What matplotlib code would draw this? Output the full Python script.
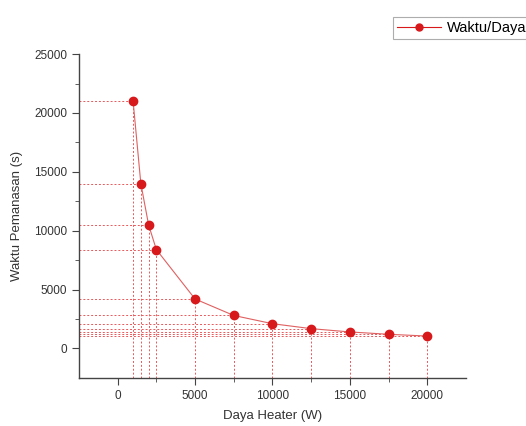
import numpy as np
import matplotlib
matplotlib.use('Agg')
import matplotlib.pyplot as plt

plt.rcParams['font.family'] = ['Liberation Sans', 'DejaVu Sans']

#Data section ---------------------------------------------
daya = [1000, 1500, 2000, 2500, 5000, 7500, 10000, 12500, 15000, 17500, 20000]
waktu = [21000, 14000, 10500, 8400, 4200, 2800, 2100, 1680, 1400, 1200, 1050]

#Plot section ---------------------------------------------
fig = plt.figure(figsize=(5.26, 4.26), dpi=100)
ax1 = fig.add_axes([0.150, 0.113, 0.736, 0.760])

xmin, ymin = -2500, -2500
red = '#d7191c'
for x, y in zip(daya, waktu):
    ax1.plot([xmin, x], [y, y], '--', dashes=(2, 2), color='#e8585a', linewidth=0.7, zorder=1)
    ax1.plot([x, x], [ymin, y], '--', dashes=(2, 2), color='#e8585a', linewidth=0.7, zorder=1)

ax1.plot(daya, waktu, '-', color='#e06060', linewidth=0.8, zorder=2)
ax1.plot(daya, waktu, 'o', color=red, markersize=6, zorder=3)
# legend handle
ax1.plot([], [], '-o', color=red, markersize=5, linewidth=0.8, label='Waktu/Daya')

ax1.set_xlim(xmin, 22500)
ax1.set_ylim(ymin, 25000)
ax1.set_xticks([0, 5000, 10000, 15000, 20000])
ax1.set_xticks([2500, 7500, 12500, 17500], minor=True)
ax1.set_yticks([0, 5000, 10000, 15000, 20000, 25000])
ax1.set_yticks([2500, 7500, 12500, 17500, 22500], minor=True)
ax1.spines['top'].set_visible(False)
ax1.spines['right'].set_visible(False)
for s in ['left', 'bottom']:
    ax1.spines[s].set_color('#444444')
    ax1.spines[s].set_linewidth(1.0)
ax1.tick_params(which='major', direction='out', length=5, color='#444444', labelsize=8.5, labelcolor='#333333')
ax1.tick_params(which='minor', direction='out', length=3, color='#444444')

ax1.set_xlabel('Daya Heater (W)', fontsize=9.5, color='#333333', labelpad=6)
ax1.set_ylabel('Waktu Pemanasan (s)', fontsize=9.5, color='#333333', labelpad=8)

leg = fig.legend(loc='upper left', bbox_to_anchor=(0.733, 0.978), fontsize=10.5,
                 frameon=True, fancybox=False, handlelength=3.0, borderpad=0.3,
                 handletextpad=0.4)
leg.get_frame().set_edgecolor('#999999')
leg.get_frame().set_linewidth(0.8)

plt.savefig('out.png', dpi=100)
